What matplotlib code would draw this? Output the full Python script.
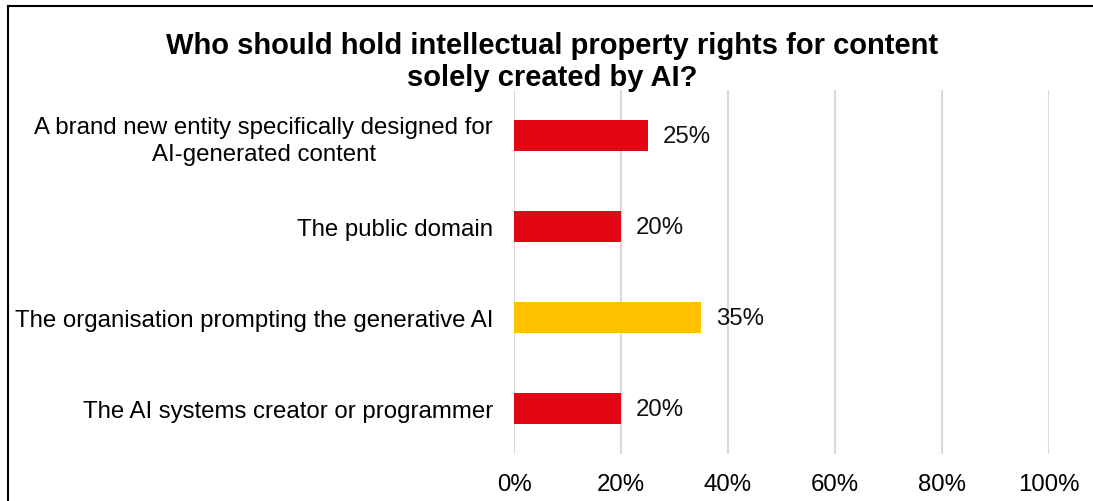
import matplotlib
matplotlib.use("Agg")
import matplotlib.pyplot as plt
from matplotlib.lines import Line2D

categories = [
    "A brand new entity specifically designed for\nAI-generated content",
    "The public domain",
    "The organisation prompting the generative AI",
    "The AI systems creator or programmer",
]
shares = [25, 20, 35, 20]
bar_colors = ["#E30613", "#E30613", "#FFC000", "#E30613"]
ticks = [0, 20, 40, 60, 80, 100]

plt.rcParams["font.family"] = ["Liberation Sans", "DejaVu Sans"]

W, H = 1093, 502
fig = plt.figure(figsize=(W / 100, H / 100), dpi=100)
ax = fig.add_axes([514 / W, 1 - 455 / H, (1049 - 514) / W, (455 - 91) / H])

ypos = list(range(len(categories)))[::-1]
ax.barh(ypos, shares, height=0.35, color=bar_colors, zorder=3)
for y, v in zip(ypos, shares):
    ax.text(v + 2.8, y - 0.01, f"{v}%", va="center", ha="left", fontsize=17.3, color="#111111")

ax.set_xlim(0, 100)
ax.set_ylim(-0.5, len(categories) - 0.5)
ax.set_xticks(ticks)
ax.set_xticklabels([f"{t}%" for t in ticks], fontsize=17.3)
ax.set_yticks(ypos)
ax.set_yticklabels(categories, fontsize=17.3, multialignment="center", linespacing=1.3)
ax.tick_params(axis="both", length=0)
ax.tick_params(axis="x", pad=14)
ax.tick_params(axis="y", pad=15)
ax.xaxis.grid(True, color="#D9D9D9", linewidth=1.5, zorder=0)
for s in ax.spines.values():
    s.set_visible(False)

fig.text(552 / W, 1 - 62 / H, "Who should hold intellectual property rights for content\nsolely created by AI?",
         ha="center", va="center", fontsize=21, fontweight="bold", linespacing=1.2)

# frame around the chart area (only top and left edges fall inside the canvas)
fig.add_artist(Line2D([8 / W, 1], [1 - 7 / H, 1 - 7 / H], transform=fig.transFigure, color="black", lw=1.5))
fig.add_artist(Line2D([8 / W, 8 / W], [0, 1 - 7 / H], transform=fig.transFigure, color="black", lw=1.5))

fig.savefig("out.png", dpi=100, facecolor="white")
